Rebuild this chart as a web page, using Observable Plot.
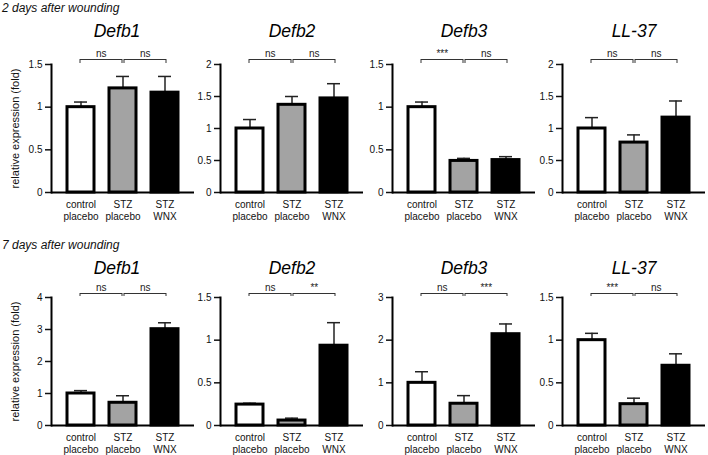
<!DOCTYPE html>
<html>
<head>
<meta charset="utf-8">
<script src="https://cdn.jsdelivr.net/npm/d3@7"></script>
<script src="https://cdn.jsdelivr.net/npm/@observablehq/plot@0.6"></script>
<style>
  body { margin: 0; background: #fff; }
  #root { position: relative; width: 708px; height: 455px; overflow: hidden; background: #fff;
          font-family: "Liberation Sans", Arial, sans-serif; }
  .rowtitle { position: absolute; left: 2px; font-size: 12px; font-style: italic; line-height: 14px; color: #111; }
  .panel { position: absolute; width: 200px; }
  .panel svg { max-width: none !important; display: block; }
</style>
</head>
<body>
<div id="root"></div>
<script>
// ---- data ----
const groups = ["control placebo", "STZ placebo", "STZ WNX"];
const barColors = ["#ffffff", "#a3a3a3", "#000000"];
const genes = ["Defb1", "Defb2", "Defb3", "LL-37"];
const rowTitles = ["2 days after wounding", "7 days after wounding"];
const yLabel = "relative expression (fold)";

// 2 days after wounding
const day2Means = [[1.00, 1.22, 1.17], [1.00, 1.37, 1.47], [1.00, 0.37, 0.38], [1.00, 0.78, 1.17]];
const day2Sem   = [[0.06, 0.14, 0.19], [0.14, 0.13, 0.23], [0.06, 0.03, 0.04], [0.17, 0.12, 0.26]];
const day2Sig   = [["ns", "ns"], ["ns", "ns"], ["***", "ns"], ["ns", "ns"]];
const day2YMax  = [1.5, 2, 1.5, 2];
const day2YStep = [0.5, 0.5, 0.5, 0.5];

// 7 days after wounding
const day7Means = [[1.00, 0.71, 3.01], [0.245, 0.058, 0.935], [1.00, 0.51, 2.14], [1.00, 0.25, 0.70]];
const day7Sem   = [[0.09, 0.22, 0.20], [0.016, 0.028, 0.27], [0.26, 0.19, 0.24], [0.08, 0.07, 0.14]];
const day7Sig   = [["ns", "ns"], ["ns", "**"], ["ns", "***"], ["***", "ns"]];
const day7YMax  = [4, 1.5, 3, 1.5];
const day7YStep = [1, 0.5, 1, 0.5];

// ---- layout ----
const panelLeft = [0, 169, 341, 511];
const rowTop = [0, 225];
const rowCfg = [
  {H: 225, MT: 64, MB: 33, titleDy: -28, gap: 5},
  {H: 230, MT: 72, MB: 30, titleDy: -24, gap: 4}
];

const root = document.getElementById("root");

function panel(row, col, means, sems, sig, ymax, ystep) {
  const cfg = rowCfg[row];
  const rows = groups.map((g, i) => ({group: g, mean: means[i], sem: sems[i]}));
  const comps = [
    {from: groups[0], to: groups[1], label: sig[0]},
    {from: groups[1], to: groups[2], label: sig[1]}
  ];
  const bracketMarks = comps.flatMap((c, i) => {
    const dx = i === 0 ? -1 : 1;
    return [
      Plot.link([c], {x1: "from", x2: "to", y1: () => ymax, y2: () => ymax, dx, dy: -cfg.gap,
                      stroke: "#333", strokeWidth: 1}),
      Plot.ruleX([c.from, c.to], {x: d => d, y1: () => ymax, y2: () => ymax,
                      insetTop: -cfg.gap, insetBottom: 1, dx, stroke: "#333", strokeWidth: 1}),
      Plot.text([c], {x: "from", y: () => ymax, text: "label", dx: dx + 21.3, dy: -cfg.gap - 3,
                      lineAnchor: "bottom", fontSize: 10, fill: "#222"})
    ];
  });
  const extra = [];
  if (col === 0) {
    extra.push(Plot.text([yLabel], {text: d => d, frameAnchor: "left", textAnchor: "middle",
                                    rotate: -90, dx: -36, fontSize: 11, fill: "#111"}));
  }
  const svg = Plot.plot({
    width: 200, height: cfg.H,
    marginLeft: 51, marginRight: 6, marginTop: cfg.MT, marginBottom: cfg.MB,
    style: {background: "transparent", fontFamily: "'Liberation Sans', Arial, sans-serif",
            fontSize: "10px", color: "#111", overflow: "visible"},
    x: {domain: groups, padding: 0.35, axis: null},
    y: {domain: [0, ymax], axis: null},
    color: {domain: groups, range: barColors},
    marks: [
      Plot.axisY({ticks: d3.range(0, ymax + ystep / 2, ystep), tickFormat: d => String(d),
                  tickSize: 6, tickPadding: 3, strokeWidth: 1.5, fontSize: 10, label: null}),
      Plot.axisX({tickSize: 0, tickPadding: 7, tickFormat: d => d.replace(" ", "\n"),
                  lineHeight: 1.2, fontSize: 10, label: null}),
      Plot.ruleX(rows, {x: "group", y1: "mean", y2: d => d.mean + d.sem, stroke: "#222", strokeWidth: 1.5}),
      Plot.tickY(rows, {x: "group", y: d => d.mean + d.sem, insetLeft: 7, insetRight: 7,
                        stroke: "#222", strokeWidth: 1.5}),
      Plot.barY(rows, {x: "group", y: "mean", fill: "group", stroke: "#000", strokeWidth: 3}),
      Plot.ruleY([0], {stroke: "#000", strokeWidth: 2}),
      Plot.frame({anchor: "left", stroke: "#000", strokeWidth: 2}),
      ...bracketMarks,
      Plot.text([genes[col]], {text: d => d, frameAnchor: "top", dy: cfg.titleDy, dx: col === 0 ? -6 : 0,
                               lineAnchor: "bottom", fontSize: 17.5, fontStyle: "italic", fill: "#000"}),
      ...extra
    ]
  });
  const wrap = document.createElement("div");
  wrap.className = "panel";
  wrap.style.left = panelLeft[col] + "px";
  wrap.style.top = rowTop[row] + "px";
  wrap.appendChild(svg);
  root.appendChild(wrap);
}

const allMeans = [day2Means, day7Means];
const allSem = [day2Sem, day7Sem];
const allSig = [day2Sig, day7Sig];
const allYMax = [day2YMax, day7YMax];
const allYStep = [day2YStep, day7YStep];

for (let r = 0; r < 2; r++) {
  for (let c = 0; c < 4; c++) {
    panel(r, c, allMeans[r][c], allSem[r][c], allSig[r][c], allYMax[r][c], allYStep[r][c]);
  }
}

const t1 = document.createElement("div");
t1.className = "rowtitle"; t1.style.top = "1px"; t1.textContent = rowTitles[0];
root.appendChild(t1);
const t2 = document.createElement("div");
t2.className = "rowtitle"; t2.style.top = "238px"; t2.textContent = rowTitles[1];
root.appendChild(t2);
</script>
</body>
</html>
